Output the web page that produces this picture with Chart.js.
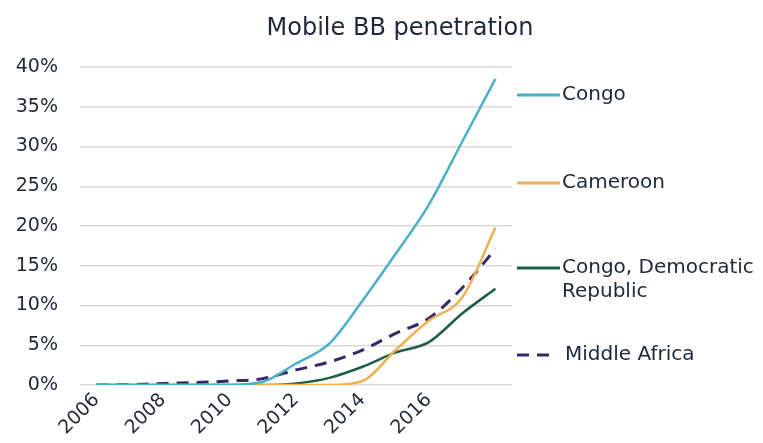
<!DOCTYPE html>
<html>
<head>
<meta charset="utf-8">
<script src="https://cdn.jsdelivr.net/npm/chart.js@4"></script>
<style>
  html, body { margin: 0; padding: 0; background: #fff; }
  #wrap { width: 763px; height: 443px; position: relative; }
</style>
</head>
<body>
<div id="wrap"><canvas id="bbChart"></canvas></div>
<script>
const years = ["2006", "2007", "2008", "2009", "2010", "2011", "2012", "2013", "2014", "2015", "2016", "2017", "2018"];
const congo = [0, 0, 0, 0, 0, 0.4, 2.7, 5.2, 10.6, 16.5, 22.7, 30.6, 38.5];
const cameroon = [0, 0, 0, 0, 0, 0, 0, 0, 0.5, 4.4, 8.1, 11.0, 19.8];
const congoDR = [0, 0, 0, 0, 0, 0, 0.2, 0.9, 2.3, 4.1, 5.4, 9.0, 12.1];
const middleAfrica = [0, 0.05, 0.2, 0.3, 0.5, 0.8, 1.9, 2.9, 4.4, 6.5, 8.4, 12.2, 17.1];
const seriesNames = ["Congo", "Cameroon", ["Congo, Democratic", "Republic"], "Middle Africa"];
const yTicks = [0, 5, 10, 15, 20, 25, 30, 35, 40];
const chartTitle = "Mobile BB penetration";

const textColor = "#1d2838";
const fontFamily = "'DejaVu Sans', sans-serif";

// title over the whole picture + legend at the right, next to the plot
const sideLegend = {
    id: "sideLegend",
    afterDraw(chart) {
        const ctx = chart.ctx;
        const rows = [95, 183, 268, 355];
        ctx.save();
        ctx.fillStyle = textColor;
        ctx.font = "24px " + fontFamily;
        ctx.textAlign = "center";
        ctx.textBaseline = "middle";
        ctx.fillText(chartTitle, 400, 29);
        ctx.textAlign = "left";
        chart.data.datasets.forEach((ds, i) => {
            const y = rows[i];
            ctx.strokeStyle = ds.borderColor;
            ctx.lineWidth = 3;
            ctx.setLineDash(ds.borderDash || []);
            ctx.beginPath();
            ctx.moveTo(517, y);
            ctx.lineTo(ds.borderDash ? 556 : 560, y);
            ctx.stroke();
            ctx.setLineDash([]);
            ctx.fillStyle = textColor;
            ctx.font = "20px " + fontFamily;
            const name = seriesNames[i];
            const lines = Array.isArray(name) ? name : [name];
            const x = ds.borderDash ? 565 : 562;
            lines.forEach((t, k) => ctx.fillText(t, x, y + k * 24));
        });
        ctx.restore();
    }
};

function line(label, data, color, extra) {
    return Object.assign({
        label: label,
        data: data,
        borderColor: color,
        backgroundColor: color,
        borderWidth: 2.5,
        pointRadius: 0,
        tension: 0.4,
        cubicInterpolationMode: "monotone",
        fill: false
    }, extra || {});
}

new Chart(document.getElementById("bbChart"), {
    type: "line",
    data: {
        labels: years,
        datasets: [
            line("Congo", congo, "#4bb0c8"),
            line("Cameroon", cameroon, "#efb153"),
            line("Congo, Democratic Republic", congoDR, "#1e5e45"),
            line("Middle Africa", middleAfrica, "#35296a", { borderDash: [12, 8], borderWidth: 3 })
        ]
    },
    options: {
        responsive: true,
        maintainAspectRatio: false,
        animation: false,
        layout: { padding: { left: 0, right: 251, top: 67, bottom: 0 } },
        plugins: {
            legend: { display: false },
            tooltip: { enabled: false },
            title: { display: false }
        },
        scales: {
            x: {
                offset: true,
                grid: { display: false, drawTicks: false },
                border: { display: false },
                ticks: {
                    autoSkip: false,
                    maxRotation: 45,
                    minRotation: 45,
                    padding: 4,
                    color: textColor,
                    font: { family: fontFamily, size: 19 },
                    callback: function (v, i) {
                        return (i % 2 === 0 && i < years.length - 1) ? years[i] : "";
                    }
                },
                afterFit: s => { s.height = 58; }
            },
            y: {
                min: 0,
                max: 40,
                afterBuildTicks: s => { s.ticks = yTicks.map(v => ({ value: v })); },
                grid: { color: "#d9d9d9", lineWidth: 1.5, drawTicks: false },
                border: { display: false },
                ticks: {
                    padding: 22,
                    color: textColor,
                    font: { family: fontFamily, size: 19 },
                    callback: v => v + "%"
                },
                afterFit: s => { s.width = 80; }
            }
        }
    },
    plugins: [sideLegend]
});
</script>
</body>
</html>
